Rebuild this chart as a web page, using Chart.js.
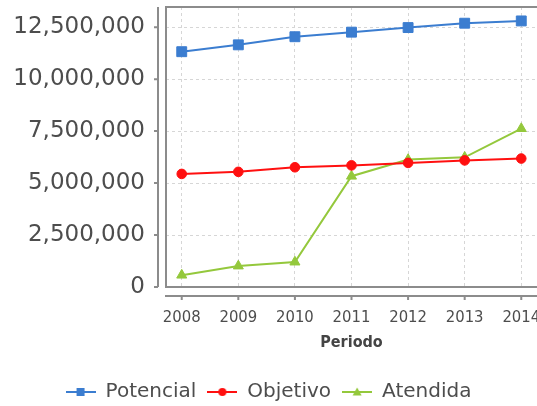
<!DOCTYPE html>
<html>
<head>
<meta charset="utf-8">
<script src="https://cdn.jsdelivr.net/npm/chart.js@4"></script>
<style>
  html, body { margin: 0; padding: 0; background: #fff; overflow: hidden; }
  #wrap { width: 537px; height: 406px; position: relative; }
  canvas { display: block; }
</style>
</head>
<body>
<div id="wrap"><canvas id="c"></canvas></div>
<script>
const years = [2008, 2009, 2010, 2011, 2012, 2013, 2014];
const potencial = [11320000, 11650000, 12040000, 12260000, 12480000, 12690000, 12800000];
const objetivo = [5440000, 5540000, 5760000, 5850000, 5970000, 6090000, 6180000];
const atendida = [570000, 1010000, 1200000, 5330000, 6130000, 6240000, 7620000];
const yTicks = [0, 2500000, 5000000, 7500000, 10000000, 12500000];

const COLORS = {
  potencial: "#3b7dd0",
  objetivo: "#ff1010",
  atendida: "#94c83c",
  grid: "#d6d6d6",
  frame: "#8c8c8c",
  text: "#4d4d4d",
};

// small line+marker images for the legend
function legendIcon(color, shape) {
  const cv = document.createElement("canvas");
  cv.width = 30;
  cv.height = 14;
  const g = cv.getContext("2d");
  g.strokeStyle = color;
  g.fillStyle = color;
  g.lineWidth = 2;
  g.beginPath();
  g.moveTo(0, 7);
  g.lineTo(30, 7);
  g.stroke();
  g.beginPath();
  if (shape === "rect") g.rect(11, 3, 8, 8);
  else if (shape === "circle") g.arc(15, 7, 4, 0, Math.PI * 2);
  else {
    g.moveTo(15, 2.5);
    g.lineTo(19.5, 10.5);
    g.lineTo(10.5, 10.5);
    g.closePath();
  }
  g.fill();
  return cv;
}

// plot box plus detached axis lines with their tick marks
const frame = {
  id: "frame",
  beforeDatasetsDraw(chart) {
    const { ctx, chartArea: a, scales } = chart;
    ctx.save();
    ctx.strokeStyle = COLORS.frame;
    ctx.lineWidth = 2;
    ctx.strokeRect(a.left, a.top, a.right - a.left + 4, a.bottom - a.top);
    const ax = a.left - 8;
    ctx.beginPath();
    ctx.moveTo(ax, a.top);
    ctx.lineTo(ax, a.bottom);
    scales.y.ticks.forEach((t) => {
      const py = scales.y.getPixelForValue(t.value);
      ctx.moveTo(ax - 4, py);
      ctx.lineTo(ax, py);
    });
    const ay = a.bottom + 9;
    ctx.moveTo(a.left - 1, ay);
    ctx.lineTo(a.right, ay);
    scales.x.ticks.forEach((t) => {
      const px = scales.x.getPixelForValue(t.value);
      ctx.moveTo(px, ay);
      ctx.lineTo(px, ay + 4);
    });
    ctx.stroke();
    ctx.restore();
  },
};

new Chart(document.getElementById("c"), {
  type: "line",
  data: {
    datasets: [
      {
        label: "Potencial",
        data: years.map((y, i) => ({ x: y, y: potencial[i] })),
        borderColor: COLORS.potencial,
        backgroundColor: COLORS.potencial,
        borderWidth: 2,
        pointStyle: "rect",
        pointRadius: 7,
        pointBorderWidth: 1,
        icon: legendIcon(COLORS.potencial, "rect"),
      },
      {
        label: "Objetivo",
        data: years.map((y, i) => ({ x: y, y: objetivo[i] })),
        borderColor: COLORS.objetivo,
        backgroundColor: COLORS.objetivo,
        borderWidth: 2,
        pointStyle: "circle",
        pointRadius: 4.8,
        pointBorderWidth: 1,
        icon: legendIcon(COLORS.objetivo, "circle"),
      },
      {
        label: "Atendida",
        data: years.map((y, i) => ({ x: y, y: atendida[i] })),
        borderColor: COLORS.atendida,
        backgroundColor: COLORS.atendida,
        borderWidth: 2,
        pointStyle: "triangle",
        pointRadius: 5.8,
        pointBorderWidth: 1,
        icon: legendIcon(COLORS.atendida, "triangle"),
      },
    ],
  },
  options: {
    responsive: true,
    maintainAspectRatio: false,
    animation: false,
    layout: { autoPadding: false, padding: { top: 7, left: 0, right: 0, bottom: -6 } },
    plugins: {
      tooltip: { enabled: false },
      legend: {
        position: "bottom",
        labels: {
          color: COLORS.text,
          font: { family: "'DejaVu Sans'", size: 20 },
          usePointStyle: true,
          pointStyleWidth: 30,
          padding: 11,
          generateLabels(chart) {
            return chart.data.datasets.map((ds, i) => ({
              text: ds.label,
              pointStyle: ds.icon,
              fillStyle: ds.borderColor,
              strokeStyle: ds.borderColor,
              lineWidth: 0,
              fontColor: COLORS.text,
              datasetIndex: i,
            }));
          },
        },
      },
    },
    scales: {
      x: {
        type: "linear",
        min: 2007.722,
        max: 2014.278,
        afterBuildTicks(s) {
          s.ticks = years.map((v) => ({ value: v }));
        },
        afterFit(s) {
          s.height = 84;
          s.paddingLeft = 0;
          s.paddingRight = 0;
        },
        ticks: {
          color: COLORS.text,
          padding: 21,
          maxRotation: 0,
          autoSkip: false,
          font: { family: "'DejaVu Sans Condensed', 'DejaVu Sans'", size: 16.5 },
          callback: (v) => String(v),
        },
        grid: { color: COLORS.grid, lineWidth: 1, drawTicks: false },
        border: { display: false, dash: [3, 3] },
        title: {
          display: true,
          text: "Periodo",
          color: "#444",
          font: { family: "'DejaVu Sans Condensed', 'DejaVu Sans'", size: 16, weight: "bold" },
          padding: { top: 0, bottom: 19 },
        },
      },
      y: {
        min: 0,
        max: 13470000,
        afterBuildTicks(s) {
          s.ticks = yTicks.map((v) => ({ value: v }));
        },
        afterFit(s) {
          s.width = 166;
          s.paddingTop = 0;
          s.paddingBottom = 0;
        },
        ticks: {
          color: COLORS.text,
          padding: 21,
          font: { family: "'DejaVu Sans'", size: 23 },
          callback: (v) => v.toLocaleString("en-US"),
        },
        grid: { color: COLORS.grid, lineWidth: 1, drawTicks: false },
        border: { display: false, dash: [3, 3] },
      },
    },
  },
  plugins: [frame],
});
</script>
</body>
</html>
